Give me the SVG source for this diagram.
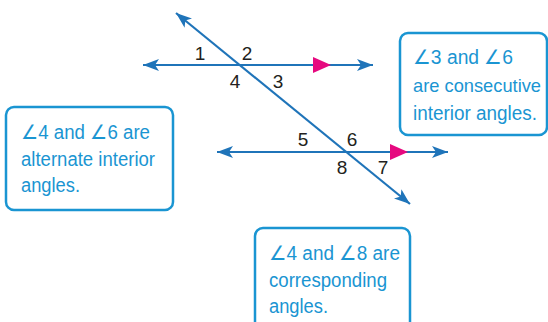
<svg xmlns="http://www.w3.org/2000/svg" width="548" height="322" viewBox="0 0 548 322">
<style>
.ln{stroke:#1f74b9;stroke-width:2.2;fill:none}
.num{font-family:"Liberation Sans",Arial,sans-serif;font-size:19px;fill:#231f20;text-anchor:middle}
.box{fill:#fff;stroke:#1a95d2;stroke-width:2.5}
.bt{font-family:"Liberation Sans",Arial,sans-serif;font-size:19.5px;fill:#1a95d2}
.pk{fill:#e6097f}
</style>
<defs>
<marker id="arr" viewBox="0 0 16 12" refX="16" refY="6" markerWidth="16" markerHeight="12" markerUnits="userSpaceOnUse" orient="auto-start-reverse">
<path d="M0,0 L16,6 L0,12 L4,6 Z" fill="#1f74b9"/>
</marker>
</defs>
<rect width="548" height="322" fill="#fff"/>
<g id="connectors">
<line class="ln" x1="143" y1="65" x2="373" y2="65" marker-start="url(#arr)" marker-end="url(#arr)"/>
<line class="ln" x1="217" y1="152" x2="448" y2="152" marker-start="url(#arr)" marker-end="url(#arr)"/>
<line class="ln" x1="176" y1="13" x2="410" y2="204" marker-start="url(#arr)" marker-end="url(#arr)"/>
<polygon class="pk" points="313,57 331,65 313,73"/>
<polygon class="pk" points="390,144 408,152 390,160"/>
</g>
<g id="labels">
<text class="num" x="200" y="60">1</text>
<text class="num" x="247" y="60">2</text>
<text class="num" x="235" y="88">4</text>
<text class="num" x="278" y="88">3</text>
<text class="num" x="303" y="146">5</text>
<text class="num" x="352" y="146">6</text>
<text class="num" x="342" y="174">8</text>
<text class="num" x="383" y="174">7</text>
</g>
<g id="note-consecutive">
<rect class="box" x="400" y="33" width="147" height="102" rx="8"/>
<text class="bt" x="413" y="64" textLength="100" lengthAdjust="spacingAndGlyphs">∠3 and ∠6</text>
<text class="bt" x="413" y="92" style="font-size:18.6px" textLength="128" lengthAdjust="spacingAndGlyphs">are consecutive</text>
<text class="bt" x="413" y="120" textLength="124" lengthAdjust="spacingAndGlyphs">interior angles.</text>
</g>
<g id="note-alternate">
<rect class="box" x="6" y="107" width="167" height="103" rx="8"/>
<text class="bt" x="21" y="139" textLength="129" lengthAdjust="spacingAndGlyphs">∠4 and ∠6 are</text>
<text class="bt" x="21" y="166" textLength="134" lengthAdjust="spacingAndGlyphs">alternate interior</text>
<text class="bt" x="21" y="192" textLength="59" lengthAdjust="spacingAndGlyphs">angles.</text>
</g>
<g id="note-corresponding">
<rect class="box" x="255" y="228" width="155" height="110" rx="8"/>
<text class="bt" x="269" y="260" textLength="131" lengthAdjust="spacingAndGlyphs">∠4 and ∠8 are</text>
<text class="bt" x="269" y="287" textLength="118" lengthAdjust="spacingAndGlyphs">corresponding</text>
<text class="bt" x="269" y="313" textLength="59" lengthAdjust="spacingAndGlyphs">angles.</text>
</g>
</svg>
